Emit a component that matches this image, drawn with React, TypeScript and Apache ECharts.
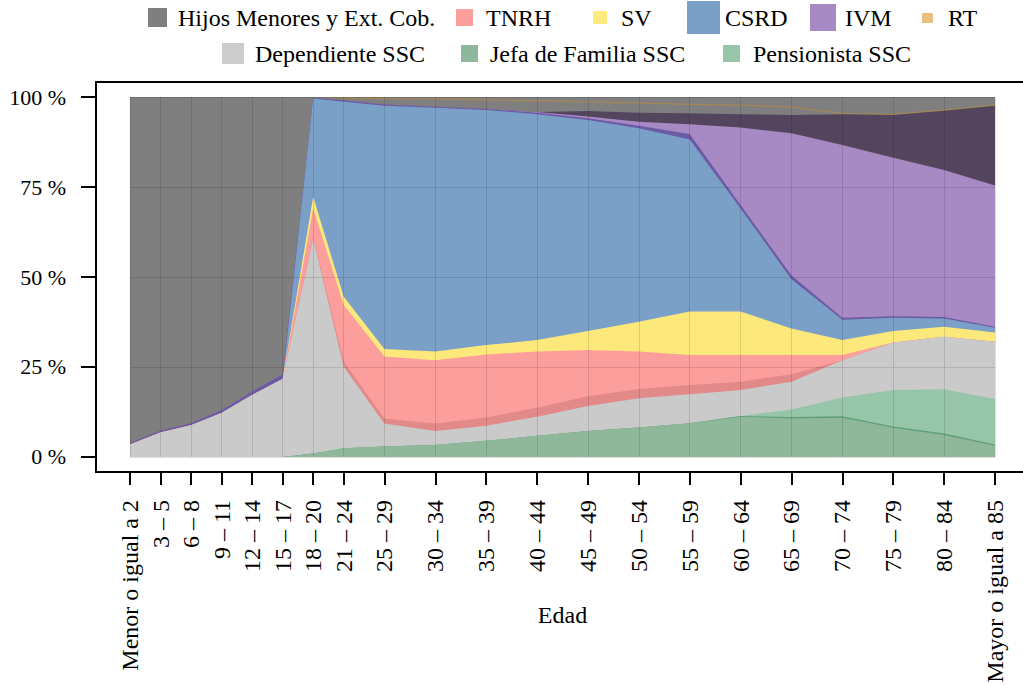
import React, { useEffect, useRef } from "react";
import * as echarts from "echarts";

// ---- Data (age group lower bounds and read-off layer shares, %) ----
const edades = [0, 3, 6, 9, 12, 15, 18, 21, 25, 30, 35, 40, 45, 50, 55, 60, 65, 70, 75, 80, 85];
const etiquetasEdad = [
  "Menor o igual a 2", "3 – 5", "6 – 8", "9 – 11", "12 – 14", "15 – 17", "18 – 20",
  "21 – 24", "25 – 29", "30 – 34", "35 – 39", "40 – 44", "45 – 49", "50 – 54",
  "55 – 59", "60 – 64", "65 – 69", "70 – 74", "75 – 79", "80 – 84", "Mayor o igual a 85",
];
const yTicks = [0, 25, 50, 75, 100];

const jefaFamilia = [0, 0, 0, 0, 0, 0, 1.0, 2.4, 2.9, 3.3, 4.5, 5.9, 7.2, 8.2, 9.4, 11.2, 10.7, 10.9, 8.1, 6.1, 3.1];
const bordeJefaPens = [0, 0, 0, 0, 0, 0, 0, 0, 0, 0, 0, 0, 0, 0, 0, 0.2, 0.4, 0.4, 0.4, 0.4, 0.4];
const pensionista = [0, 0, 0, 0, 0, 0, 0, 0, 0, 0, 0, 0, 0, 0, 0, 0, 2.1, 5.2, 10.1, 12.3, 12.6];
const dependiente = [3.5, 6.8, 8.8, 12.2, 17.2, 21.7, 59.7, 22.7, 6.4, 3.9, 4.2, 5.3, 7.0, 8.1, 8.0, 7.2, 7.7, 10.4, 13.2, 14.6, 15.9];
const solapeTnrh = [0, 0, 0, 0, 0, 0, 0.5, 1.4, 1.4, 2.1, 2.3, 2.5, 2.7, 2.6, 2.6, 2.3, 2.1, 0, 0, 0, 0];
const tnrh = [0, 0, 0, 0, 0, 0, 7.9, 15.7, 17.2, 17.6, 17.5, 15.6, 12.8, 10.4, 8.3, 7.4, 5.3, 1.4, 0, 0, 0];
const sv = [0, 0, 0, 0, 0, 0, 3.2, 2.3, 2.1, 2.4, 2.6, 3.2, 5.3, 8.3, 12.1, 12.1, 7.4, 4.2, 3.2, 2.8, 2.6];
const csrd = [0, 0, 0, 0, 0, 0, 27.3, 54.2, 67.6, 67.7, 65.3, 62.7, 58.6, 53.7, 47.8, 28.6, 13.7, 5.6, 3.7, 2.3, 1.3];
const bordeCsrdIvm = [0.4, 0.5, 0.6, 0.8, 1.0, 1.2, 0.2, 0.3, 0.3, 0.3, 0.3, 0.4, 0.5, 0.7, 1.5, 1.0, 1.0, 0.6, 0.4, 0.4, 0.3];
const ivm = [0, 0, 0, 0, 0, 0, 0, 0, 0, 0, 0, 0.2, 0.5, 1.1, 2.7, 21.5, 39.5, 48.0, 44.0, 40.8, 39.2];
const solapeIvmHijos = [0, 0, 0, 0, 0, 0, 0, 0, 0, 0, 0, 0, 1.5, 2.5, 3.1, 3.7, 5.1, 8.5, 11.9, 16.5, 22.2];
const hijosBajo = [96.1, 92.7, 90.6, 87.0, 81.8, 77.1, 0.2, 0.5, 1.5, 2.0, 2.3, 3.0, 2.4, 2.6, 2.3, 2.4, 2.1, 0, 0, 0, 0];
const rt = [0, 0, 0, 0, 0, 0, 0, 0.35, 0.35, 0.35, 0.35, 0.35, 0.35, 0.35, 0.35, 0.35, 0.35, 0.35, 0.35, 0.35, 0.35];
const hijosAlto = [0, 0, 0, 0, 0, 0, 0, 0.15, 0.25, 0.35, 0.65, 0.85, 1.15, 1.45, 1.85, 2.05, 2.55, 4.45, 4.65, 3.45, 2.05];

const HIJOS = "Hijos Menores y Ext. Cob.";
const FONT = "'Liberation Serif', 'Times New Roman', serif";

// bottom -> top
const layers = [
  { name: "Jefa de Familia SSC", values: jefaFamilia, color: "#8fb89b" },
  { name: "Jefa / Pensionista (borde)", values: bordeJefaPens, color: "#5e9f77" },
  { name: "Pensionista SSC", values: pensionista, color: "#97c5a9" },
  { name: "Dependiente SSC", values: dependiente, color: "#cacaca" },
  { name: "TNRH (solape)", values: solapeTnrh, color: "#e2898a" },
  { name: "TNRH", values: tnrh, color: "#fc9f9c" },
  { name: "SV", values: sv, color: "#fde87c" },
  { name: "CSRD", values: csrd, color: "#7ba0c7" },
  { name: "CSRD / IVM (borde)", values: bordeCsrdIvm, color: "#6b5ba6" },
  { name: "IVM", values: ivm, color: "#a789c3" },
  { name: "IVM / Hijos (solape)", values: solapeIvmHijos, color: "#54455f" },
  { name: HIJOS, values: hijosBajo, color: "#7f7f7f" },
  { name: "RT", values: rt, color: "#a58752" },
  { name: HIJOS, values: hijosAlto, color: "#7f7f7f" },
];

const legendItems = [
  { name: HIJOS, color: "#7f7f7f", left: 148, cy: 17.5, w: 19, h: 19, pad: 6 },
  { name: "TNRH", color: "#fc9f9c", left: 456, cy: 17.5, w: 17, h: 17, pad: 8 },
  { name: "SV", color: "#fde97c", left: 593, cy: 17.5, w: 14, h: 13, pad: 9 },
  { name: "CSRD", color: "#7ba0c7", left: 687, cy: 17.5, w: 33, h: 33, pad: 0 },
  { name: "IVM", color: "#a789c3", left: 810, cy: 17.5, w: 26, h: 27, pad: 4 },
  { name: "RT", color: "#e6c07e", left: 922, cy: 18, w: 11, h: 10, pad: 10 },
  { name: "Dependiente SSC", color: "#cccccc", left: 222, cy: 53.5, w: 22, h: 21, pad: 6 },
  { name: "Jefa de Familia SSC", color: "#8db89b", left: 461, cy: 53.5, w: 17, h: 17, pad: 7 },
  { name: "Pensionista SSC", color: "#97c5aa", left: 723, cy: 53.5, w: 17, h: 17, pad: 8 },
];

export default function App() {
  const ref = useRef<HTMLDivElement>(null);

  useEffect(() => {
    document.body.style.margin = "0";
    if (!ref.current) return;
    const chart = echarts.init(ref.current, undefined, { renderer: "svg" });

    // cumulative tops of each layer
    const running = edades.map(() => 0);
    const cumulative = layers.map((l) => {
      const tops = l.values.map((v, i) => (running[i] += v));
      return { ...l, tops: tops.map((t) => Math.min(100, +t.toFixed(3))) };
    });

    // paint from the top layer down so lower layers cover upper ones
    const series: any[] = cumulative
      .slice()
      .reverse()
      .map((l) => ({
        type: "line",
        name: l.name,
        data: edades.map((x, i) => [x, l.tops[i]]),
        symbol: "none",
        showSymbol: false,
        lineStyle: { width: 0 },
        areaStyle: { color: l.color, opacity: 1, origin: 0 },
        itemStyle: { color: l.color },
        emphasis: { disabled: true },
        silent: true,
      }));

    const xMin = edades[0];
    const xMax = edades[edades.length - 1];
    const gridLines: any[] = [];
    yTicks.forEach((v) => gridLines.push([{ coord: [xMin, v] }, { coord: [xMax, v] }]));
    edades.forEach((x) => gridLines.push([{ coord: [x, 0] }, { coord: [x, 100] }]));
    series.push({
      type: "line",
      name: "grid",
      data: [],
      silent: true,
      markLine: {
        silent: true,
        symbol: ["none", "none"],
        label: { show: false },
        emphasis: { disabled: true },
        lineStyle: { color: "rgba(0,0,0,0.12)", width: 1, type: "solid" },
        data: gridLines,
      },
    });

    const legends = legendItems.map((it) => ({
      show: true,
      left: it.left,
      top: it.cy - Math.max(it.h, 24) / 2,
      padding: 0,
      itemWidth: it.w,
      itemHeight: it.h,
      icon: "rect",
      selectedMode: false,
      data: [{ name: it.name, itemStyle: { color: it.color, borderWidth: 0 } }],
      textStyle: {
        fontFamily: FONT,
        fontSize: 24,
        color: "#000",
        lineHeight: 24,
        padding: [0, 0, 0, it.pad],
      },
    }));

    chart.setOption({
      animation: false,
      backgroundColor: "#fff",
      legend: legends,
      grid: {
        left: 96,
        top: 82,
        right: -6,
        bottom: 213,
        show: true,
        borderColor: "#000",
        borderWidth: 2,
        backgroundColor: "transparent",
        containLabel: false,
        outerBoundsMode: "none",
      },
      xAxis: {
        type: "value",
        min: -3.341,
        max: 88.341,
        name: "Edad",
        nameLocation: "middle",
        nameGap: 131,
        nameMoveOverlap: false,
        nameTextStyle: { fontFamily: FONT, fontSize: 24, color: "#000" },
        axisLine: { show: true, onZero: false, lineStyle: { color: "#000", width: 2 } },
        axisTick: {
          show: true,
          length: 13,
          customValues: edades,
          lineStyle: { color: "#000", width: 2 },
        },
        axisLabel: {
          show: true,
          customValues: edades,
          rotate: 90,
          margin: 28,
          fontFamily: FONT,
          fontSize: 24,
          color: "#000",
          formatter: (v: number) => {
            const i = edades.indexOf(Math.round(v));
            return i >= 0 ? etiquetasEdad[i] : "";
          },
        },
        splitLine: { show: false },
      },
      yAxis: {
        type: "value",
        min: -4.1667,
        max: 104.1667,
        axisLine: { show: true, onZero: false, lineStyle: { color: "#000", width: 2 } },
        axisTick: {
          show: true,
          length: 15,
          customValues: yTicks,
          lineStyle: { color: "#000", width: 2 },
        },
        axisLabel: {
          show: true,
          customValues: yTicks,
          margin: 30,
          fontFamily: FONT,
          fontSize: 22,
          color: "#000",
          formatter: (v: number) => `${Math.round(v)} %`,
        },
        splitLine: { show: false },
      },
      series,
    });

    return () => chart.dispose();
  }, []);

  return <div ref={ref} style={{ width: 1023, height: 685 }} />;
}
